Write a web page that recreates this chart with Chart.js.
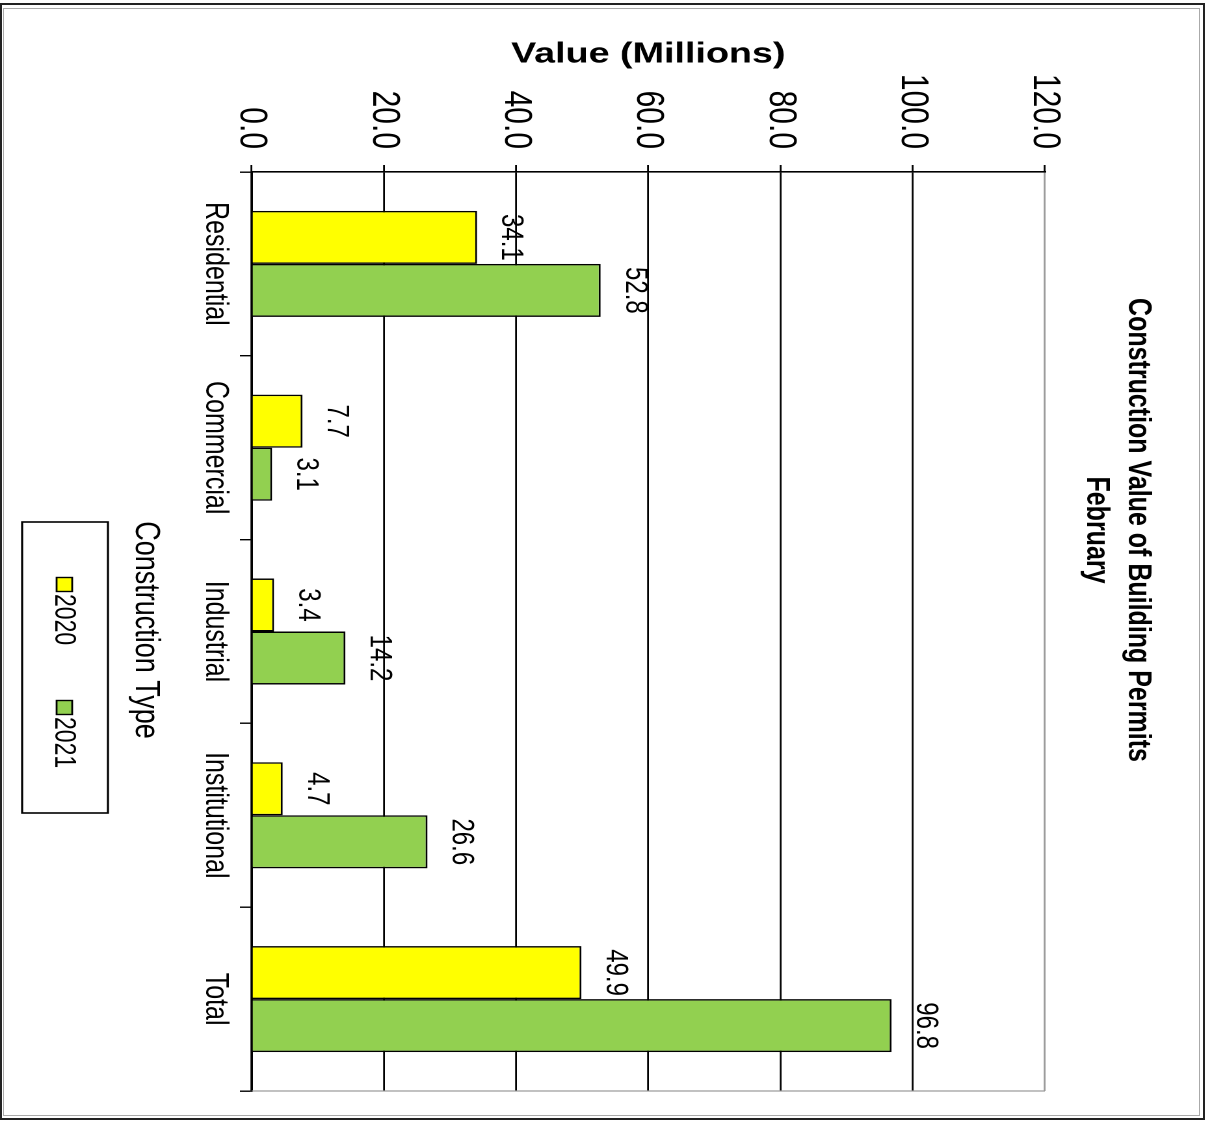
<!DOCTYPE html>
<html>
<head>
<meta charset="utf-8">
<script src="https://cdn.jsdelivr.net/npm/chart.js@4.4.1/dist/chart.umd.min.js"></script>
<style>
  html, body { margin: 0; padding: 0; background: #fff; overflow: hidden; }
  body { width: 1212px; height: 1121px; position: relative; }
  #frame { position: absolute; left: 0; top: 3px; width: 1201px; height: 1113px; border: 2px solid #222; }
  #inner { position: absolute; left: 3px; top: 8px; width: 1195px; height: 1106px; border: 1px solid #aaa; }
  /* chart is drawn upright, then stretched and turned a quarter clockwise like the scan */
  #wrap { position: absolute; left: 0; top: 0; width: 1121px; height: 932px;
          transform-origin: 0 0; transform: translate(1212px, 0) rotate(90deg) scale(1, 1.3004); }
</style>
</head>
<body>
<div id="frame"></div>
<div id="inner"></div>
<div id="wrap"><canvas id="chart" width="1121" height="932"></canvas></div>
<script>
const categories = ['Residential', 'Commercial', 'Industrial', 'Institutional', 'Total'];
const values2020 = [34.1, 7.7, 3.4, 4.7, 49.9];
const values2021 = [52.8, 3.1, 14.2, 26.6, 96.8];
const seriesNames = ['2020', '2021'];
const valueTicks = [0, 20, 40, 60, 80, 100, 120];
const titleLines = ['Construction Value of Building Permits', 'February'];
const axisTitle = 'Value (Millions)';
const legendTitle = 'Construction Type';

const SANS = '"Liberation Sans", Arial, sans-serif';
const NARROW = '"Liberation Sans Narrow", "Liberation Sans", Arial, sans-serif';

const plotEdge = {
    id: 'plotEdge',
    beforeDatasetsDraw(chart) {
        const { ctx, chartArea: a } = chart;
        ctx.save();
        ctx.strokeStyle = '#999';
        ctx.lineWidth = 1.2;
        ctx.beginPath();
        ctx.moveTo(a.right, a.top);
        ctx.lineTo(a.right, a.bottom);
        ctx.stroke();
        ctx.restore();
    }
};

const valueLabels = {
    id: 'valueLabels',
    afterDatasetsDraw(chart) {
        const ctx = chart.ctx;
        ctx.save();
        ctx.font = '24px ' + SANS;
        ctx.fillStyle = '#000';
        ctx.textAlign = 'center';
        ctx.textBaseline = 'middle';
        chart.data.datasets.forEach((ds, i) => {
            chart.getDatasetMeta(i).data.forEach((bar, j) => {
                ctx.fillText(ds.data[j].toFixed(1), bar.x, bar.y - 26);
            });
        });
        ctx.restore();
    }
};

const titleAndLegend = {
    id: 'titleAndLegend',
    afterDraw(chart) {
        const ctx = chart.ctx;
        ctx.save();
        ctx.fillStyle = '#000';
        ctx.textAlign = 'center';
        ctx.textBaseline = 'middle';
        ctx.font = 'bold 25px ' + SANS;
        ctx.fillText(titleLines[0], 530, 57);
        ctx.fillText(titleLines[1], 530, 89);

        ctx.font = '27px ' + SANS;
        ctx.fillText(legendTitle, 630, 820);

        ctx.strokeStyle = '#000';
        ctx.lineWidth = 1.6;
        ctx.strokeRect(522, 849, 291, 66);

        ctx.font = '23px ' + SANS;
        ctx.textAlign = 'left';
        const itemX = [577, 700];
        chart.data.datasets.forEach((ds, i) => {
            ctx.fillStyle = ds.backgroundColor;
            ctx.fillRect(itemX[i], 876, 15, 13);
            ctx.lineWidth = 1.4;
            ctx.strokeRect(itemX[i] + 0.5, 876.5, 14, 12);
            ctx.fillStyle = '#000';
            ctx.fillText(ds.label, itemX[i] + 17, 883);
        });
        ctx.restore();
    }
};

const ctx = document.getElementById('chart').getContext('2d');
new Chart(ctx, {
    type: 'bar',
    data: {
        labels: categories,
        datasets: [{
            label: seriesNames[0],
            data: values2020,
            backgroundColor: '#ffff00',
            borderColor: '#000',
            borderWidth: 1.5,
        }, {
            label: seriesNames[1],
            data: values2021,
            backgroundColor: '#92d050',
            borderColor: '#000',
            borderWidth: 1.5,
        }]
    },
    options: {
        responsive: false,
        animation: false,
        devicePixelRatio: 2,
        categoryPercentage: 0.577,
        barPercentage: 1,
        layout: { padding: { left: 0, right: 30, top: 128.5, bottom: 143.5 } },
        plugins: {
            legend: { display: false },
            tooltip: { enabled: false },
            title: { display: false },
        },
        scales: {
            x: {
                grid: { display: true, drawOnChartArea: false, drawTicks: true, tickLength: 9, color: '#000', lineWidth: 1.4, offset: true },
                border: { display: true, color: '#000', width: 1.6 },
                ticks: { color: '#000', font: { family: SANS, size: 25 }, padding: 4, maxRotation: 0, autoSkip: false },
                afterFit(scale) { scale.height = 50; },
            },
            y: {
                min: 0,
                max: 120,
                afterBuildTicks(scale) { scale.ticks = valueTicks.map(v => ({ value: v })); },
                ticks: { color: '#000', font: { family: NARROW, size: 30 }, padding: 16, callback: v => v.toFixed(1) },
                grid: {
                    color: c => (c.tick && c.tick.value === 120 ? '#999' : '#000'),
                    tickColor: '#000',
                    tickLength: 7,
                    lineWidth: 1.4,
                },
                border: { display: true, color: '#000', width: 1.6 },
                title: {
                    display: true,
                    text: axisTitle,
                    color: '#000',
                    font: { family: SANS, size: 29, weight: 'bold' },
                    padding: { top: 37, bottom: 0 },
                },
                afterFit(scale) { scale.width = 172; },
            }
        }
    },
    plugins: [plotEdge, valueLabels, titleAndLegend]
});
</script>
</body>
</html>
